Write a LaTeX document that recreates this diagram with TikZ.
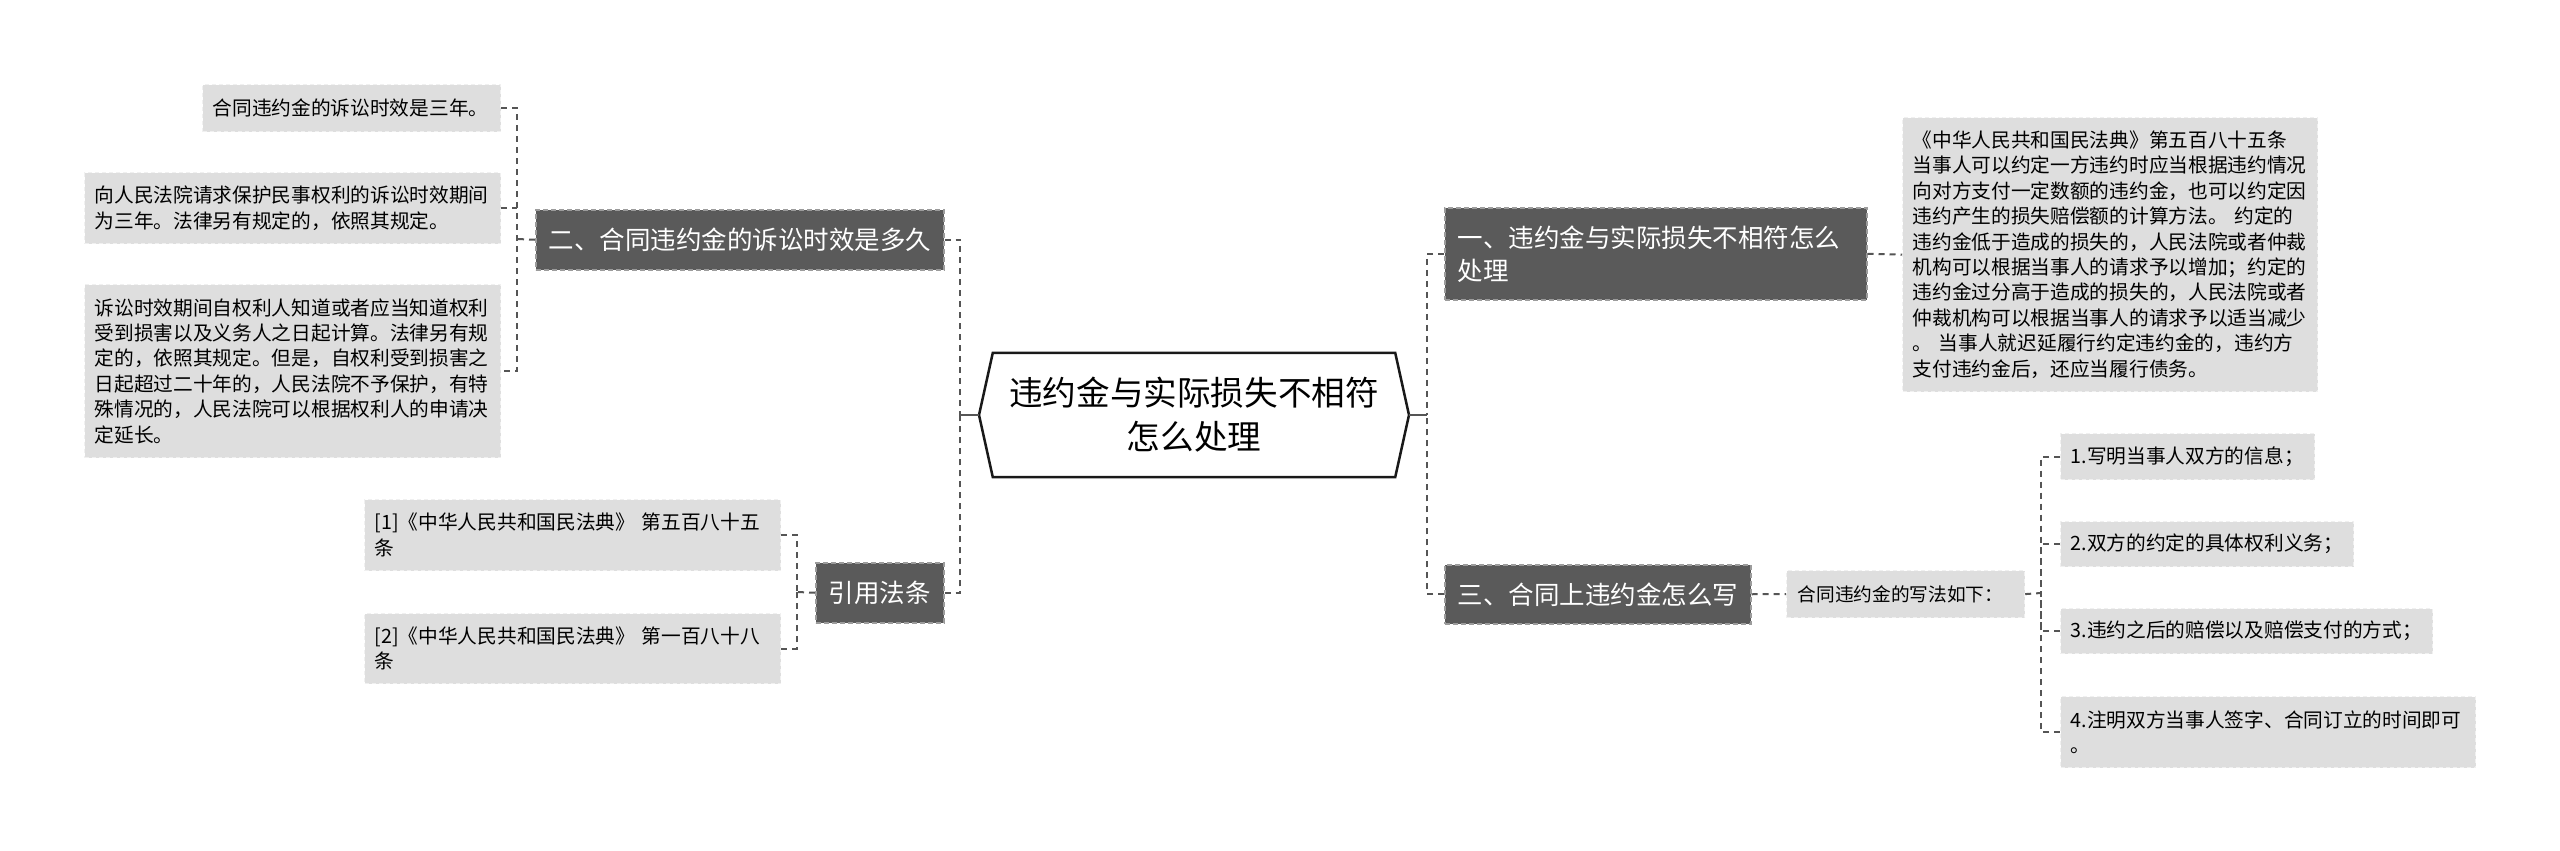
\documentclass[tikz,border=0pt]{standalone}
\usepackage{fontspec}
\usepackage{xcolor}
\usepackage{tikz}
\setmainfont{Noto Sans CJK SC}

\definecolor{branchgray}{HTML}{5A5A5A}
\definecolor{branchedge}{HTML}{9C9C9C}
\definecolor{leafgray}{HTML}{DEDEDE}
\definecolor{leafedge}{HTML}{F0F0F0}
\definecolor{linkgray}{HTML}{555555}

\newcommand{\leaffont}{\fontsize{19.7}{25.4}\selectfont}
\newcommand{\branchfont}{\fontsize{25.5}{33}\selectfont}
\newcommand{\rootfont}{\fontsize{33.6}{44}\selectfont}

\begin{document}
\begin{tikzpicture}[x=1pt,y=-1pt,
    leaf/.style={fill=leafgray, draw=leafedge, line width=1.2pt, dash pattern=on 4pt off 3pt,
        font=\leaffont, align=left, inner xsep=10pt, inner ysep=6pt, anchor=north west},
    branch/.style={fill=branchgray, draw=branchedge, line width=1.5pt, dash pattern=on 5pt off 3pt,
        text=white, font=\branchfont, align=left, inner xsep=13pt, inner ysep=6pt, anchor=north west},
    link/.style={draw=linkgray, line width=2pt, dash pattern=on 6pt off 5pt},
    stub/.style={draw=linkgray, line width=2pt},
    rootline/.style={draw=black!90, line width=2.5pt}]

    \fill[white] (0,0) rectangle (2560,851);
    \useasboundingbox (0,0) rectangle (2560,851);

    % centre
    \node[font=\rootfont, align=center, minimum width=402pt, minimum height=124pt, inner sep=0pt]
        (root) at (1194,415) {违约金与实际损失不相符\\怎么处理};
    \coordinate (rootL) at (979,415);
    \coordinate (rootR) at (1409,415);
    \draw[rootline] (root.north west) -- (root.north east) -- (rootR)
        -- (root.south east) -- (root.south west) -- (rootL) -- cycle;

    % bus and bracket points
    \coordinate (lbus) at (960,415);
    \coordinate (rbus) at (1427,415);
    \coordinate (kb2) at (517,239);
    \coordinate (kcite) at (797,592);
    \coordinate (kmid) at (2041,593);

    % left side
    \node[branch, text width=382pt, minimum height=60pt] (b2) at (535,209) {二、合同违约金的诉讼时效是多久};
    \node[branch, text width=102pt, minimum height=60pt] (b4) at (815,562) {引用法条};

    \node[leaf, text width=278pt, minimum height=47pt] (la) at (202,84) {合同违约金的诉讼时效是三年。};
    \node[leaf, text width=396pt, minimum height=71pt] (lb) at (84,172)
        {向人民法院请求保护民事权利的诉讼时效期间\\为三年。法律另有规定的，依照其规定。};
    \node[leaf, text width=396pt, minimum height=173pt] (lc) at (84,284)
        {诉讼时效期间自权利人知道或者应当知道权利\\受到损害以及义务人之日起计算。法律另有规\\定的，依照其规定。但是，自权利受到损害之\\日起超过二十年的，人民法院不予保护，有特\\殊情况的，人民法院可以根据权利人的申请决\\定延长。};

    \node[leaf, text width=396pt, minimum height=71pt] (ld) at (364,499)
        {[1]《中华人民共和国民法典》 第五百八十五\\条};
    \node[leaf, text width=396pt, minimum height=70pt] (le) at (364,613)
        {[2]《中华人民共和国民法典》 第一百八十八\\条};

    % right side
    \node[branch, text width=396pt, minimum height=92pt] (b1) at (1444,207)
        {一、违约金与实际损失不相符怎么\\处理};
    \node[branch, text width=280pt, minimum height=59pt] (b3) at (1444,564) {三、合同上违约金怎么写};

    \node[leaf, text width=395pt, minimum height=274pt] (lf) at (1902,117)
        {《中华人民共和国民法典》第五百八十五条\\当事人可以约定一方违约时应当根据违约情况\\向对方支付一定数额的违约金，也可以约定因\\违约产生的损失赔偿额的计算方法。 约定的\\违约金低于造成的损失的，人民法院或者仲裁\\机构可以根据当事人的请求予以增加；约定的\\违约金过分高于造成的损失的，人民法院或者\\仲裁机构可以根据当事人的请求予以适当减少\\。 当事人就迟延履行约定违约金的，违约方\\支付违约金后，还应当履行债务。};

    \node[leaf, font=\fontsize{18.7}{24}\selectfont, inner xsep=11pt, text width=216pt, minimum height=47pt]
        (mid) at (1786,570) {合同违约金的写法如下：};

    \node[leaf, text width=234pt, minimum height=46pt] (n1) at (2060,433) {1.写明当事人双方的信息；};
    \node[leaf, text width=273pt, minimum height=45pt] (n2) at (2060,521) {2.双方的约定的具体权利义务；};
    \node[leaf, text width=352pt, minimum height=45pt] (n3) at (2060,608) {3.违约之后的赔偿以及赔偿支付的方式；};
    \node[leaf, text width=395pt, minimum height=71pt] (n4) at (2060,696)
        {4.注明双方当事人签字、合同订立的时间即可\\。};

    % connectors
    \draw[stub] (rootL) -- (lbus);
    \draw[stub] (rootR) -- (rbus);
    \draw[link] (b2.east) -| (lbus);
    \draw[link] (b4.east) -| (lbus);
    \draw[link] (b1.west) -| (rbus);
    \draw[link] (b3.west) -| (rbus);

    \draw[link] (b2.west) -- (kb2);
    \draw[link] (la.east) -- (la.east -| kb2) |- (lc.east);
    \draw[link] (lb.east) -- (lb.east -| kb2);

    \draw[link] (b4.west) -- (kcite);
    \draw[link] (ld.east) -| (kcite);
    \draw[link] (le.east) -| (kcite);

    \draw[link] (b1.east) -- (lf.west);
    \draw[link] (b3.east) -- (mid.west);
    \draw[link] (mid.east) -- (kmid);
    \draw[link] (n1.west) -| (kmid);
    \draw[link] (n2.west) -| (kmid);
    \draw[link] (n3.west) -| (kmid);
    \draw[link] (n4.west) -| (kmid);
\end{tikzpicture}
\end{document}
